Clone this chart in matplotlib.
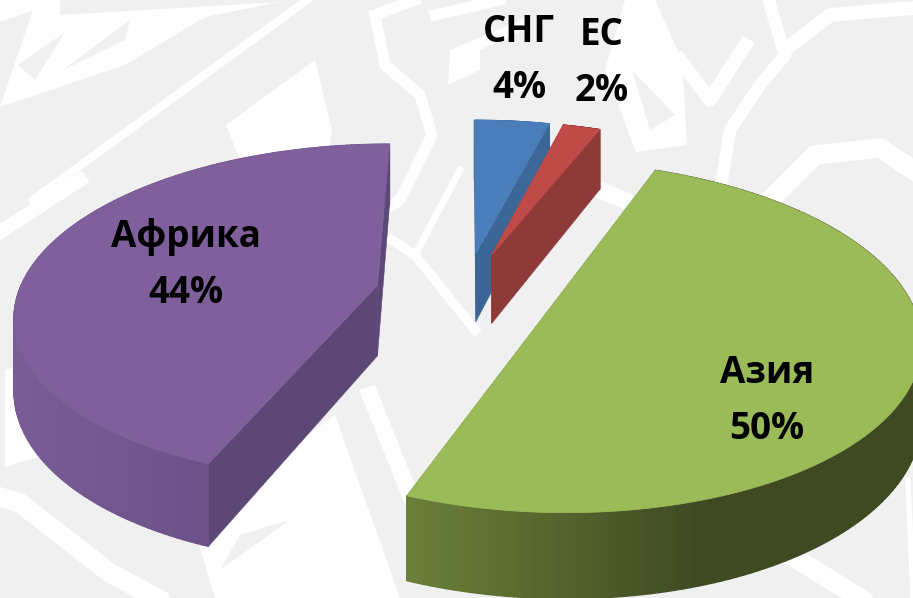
import numpy as np
import matplotlib
matplotlib.use('Agg')
import matplotlib.pyplot as plt
from matplotlib.colors import to_rgb

labels = ['СНГ', 'ЕС', 'Азия', 'Африка']
values = [4, 2, 50, 44]
top_colors = ['#4a7ebb', '#be4b48', '#9bbb59', '#7f609c']
cut_colors = ['#3b6695', '#8e3a38', '#6b8039', '#5d4777']
rim_light = ['#3f6c9f', '#8e3a38', '#6b8039', '#7a5c98']
rim_dark = ['#3b6695', '#8e3a38', '#3f4a23', '#5e4877']

# perspective of the pie plane, in pixels
x0, y0 = 465, 293
rx, ry = 359, 166
k = 0.16
depth = 71
explode = 0.25

label_pos = [(519, 60), (602, 63), (767, 401), (186, 265)]


def project(X, Y, z=0):
    w = 1 + k * Y
    return x0 + rx * X / w, y0 - ry * Y / w + z * depth / w


def mix(c1, c2, t):
    c1, c2 = np.array(to_rgb(c1)), np.array(to_rgb(c2))
    return tuple(c1 + (c2 - c1) * t)


fig = plt.figure(figsize=(9.13, 5.98), dpi=100)
ax = fig.add_axes([0, 0, 1, 1])
ax.set_xlim(0, 913)
ax.set_ylim(598, 0)
ax.axis('off')
fig.patch.set_facecolor('#f0f0f0')

# faint backdrop: white patches, grey holes, white strokes
patches = [
    [(0, 0), (60, 0), (60, 15), (280, 2), (205, 17), (125, 65), (0, 107), (33, 10), (0, 22)],
    [(226, 125), (315, 60), (332, 130), (330, 145), (240, 160)],
    [(5, 370), (22, 365), (30, 440), (45, 455), (5, 467)],
    [(200, 548), (215, 598), (400, 598), (335, 415), (300, 440)],
    [(448, 85), (450, 50), (525, 18), (525, 30), (480, 50), (480, 70)],
    [(625, 0), (655, 0), (682, 60), (687, 145), (636, 152), (605, 70)],
]
holes = [
    [(18, 65), (65, 32), (35, 80)],
    [(63, 70), (130, 20), (125, 40)],
    [(632, 70), (675, 115), (650, 130)],
    [(240, 535), (290, 520), (220, 570)],
    [(795, 45), (835, 10), (800, 42)],
]
strokes = [
    ([(33, 200), (307, 0)], 6),
    ([(375, 15), (385, 65), (420, 95), (432, 135), (400, 200), (392, 205)], 8),
    ([(375, 15), (415, 0)], 8),
    ([(435, 15), (500, 0)], 8),
    ([(392, 240), (415, 255), (475, 330)], 7),
    ([(415, 255), (460, 170)], 5),
    ([(680, 60), (710, 100), (745, 45)], 10),
    ([(770, 5), (785, 55), (760, 85), (730, 130), (722, 180)], 9),
    ([(785, 50), (830, 15), (913, 8)], 10),
    ([(775, 195), (815, 155), (880, 148), (913, 170)], 14),
    ([(600, 190), (635, 205)], 12),
    ([(0, 232), (80, 180)], 10),
    ([(0, 497), (20, 503), (110, 573), (157, 598)], 14),
    ([(370, 395), (440, 570)], 12),
    ([(790, 555), (860, 598)], 14),
    ([(908, 480), (913, 598)], 4),
]
for shape in patches:
    xs, ys = zip(*shape)
    ax.fill(xs, ys, color='white', lw=0, zorder=1)
for shape in holes:
    xs, ys = zip(*shape)
    ax.fill(xs, ys, color='#f0f0f0', lw=0, zorder=2)
for shape, lw in strokes:
    xs, ys = zip(*shape)
    ax.plot(xs, ys, color='white', lw=lw, solid_joinstyle='round', zorder=3)

edges = 360 * np.cumsum([0] + values) / np.sum(values)
order = [0, 1, 3, 2]
for n, i in enumerate(order):
    a, b = np.radians(edges[i]), np.radians(edges[i + 1])
    mid = (a + b) / 2
    cX, cY = explode * np.sin(mid), explode * np.cos(mid)
    th = np.linspace(a, b, 160)
    X = cX + np.sin(th)
    Y = cY + np.cos(th)
    z = 10 + n

    # cut faces
    for e in (a, b):
        eX, eY = cX + np.sin(e), cY + np.cos(e)
        p = [project(cX, cY), project(eX, eY), project(eX, eY, 1), project(cX, cY, 1)]
        xs, ys = zip(*p)
        ax.fill(xs, ys, color=cut_colors[i], lw=0.4, zorder=z)

    # outer rim, shaded along the arc
    px, py = project(X, Y)
    qx, qy = project(X, Y, 1)
    span = px.max() - px.min()
    for j in range(len(th) - 1):
        if i == 2:
            t = np.clip((700 - px[j]) / 290, 0, 1)
            col = mix(rim_dark[i], rim_light[i], t)
        else:
            t = (px[j] - px.min()) / span
            col = mix(rim_light[i], rim_dark[i], t)
        ax.fill([px[j], px[j + 1], qx[j + 1], qx[j]], [py[j], py[j + 1], qy[j + 1], qy[j]],
                color=col, lw=1.0, zorder=z)

    # top face
    ax0, ay0 = project(cX, cY)
    ax.fill(np.r_[ax0, px], np.r_[ay0, py], color=top_colors[i], lw=0.6, zorder=z + 0.5)

for i in range(len(labels)):
    ax.text(label_pos[i][0], label_pos[i][1], labels[i] + '\n' + str(values[i]) + '%',
            ha='center', va='center', fontsize=26.5, fontweight='bold', family='Open Sans',
            color='black', linespacing=1.6, zorder=30)

fig.savefig('out.png', dpi=100, facecolor=fig.get_facecolor())
